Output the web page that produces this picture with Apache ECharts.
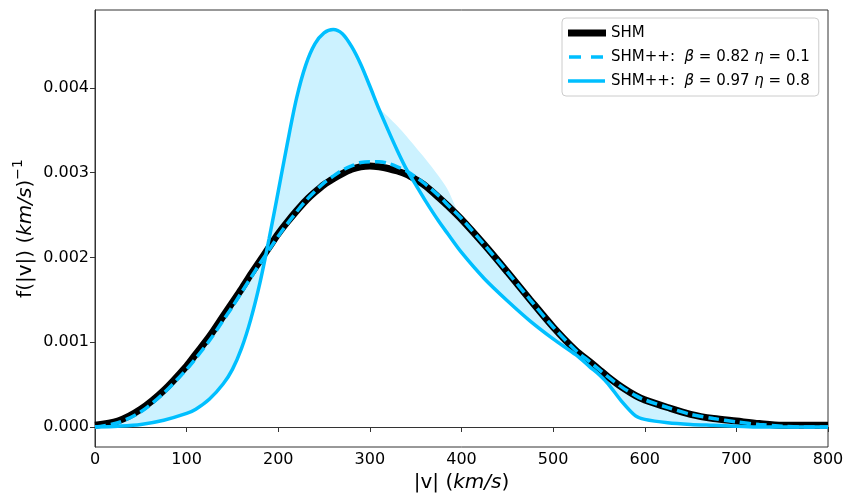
<!DOCTYPE html>
<html>

<head>
    <meta charset="UTF-8">
    <title>SHM speed distributions</title>
    <script src="https://cdn.jsdelivr.net/npm/echarts@6/dist/echarts.min.js"></script>
    <style>
        body {
            margin: 0;
            background-color: #fff;
        }

        #chart {
            width: 845px;
            height: 493px;
        }
    </style>
</head>

<body>
<div id="chart"></div>
<script>
    // speed grid |v| in km/s
    const speed = [0, 25, 50, 75, 100, 110, 125, 140, 150, 160, 170, 180, 190, 200, 210, 220, 230, 240, 250, 260,
        270, 280, 290, 300, 310, 320, 330, 340, 350, 360, 375, 385, 400, 425, 450, 475, 500, 525, 540, 550, 560,
        575, 590, 600, 625, 650, 675, 700, 725, 750, 775, 800]

    // SHM
    const shm = [0.00002, 0.00007, 0.00021, 0.00043, 0.00072, 0.00086, 0.00107, 0.00131, 0.00147, 0.00163,
        0.00180, 0.00196, 0.00212, 0.00228, 0.00242, 0.00255, 0.00267, 0.00277, 0.00286, 0.00293,
        0.00299, 0.00304, 0.00307, 0.00308, 0.00307, 0.00305, 0.00302, 0.00298, 0.00292, 0.00285,
        0.00271, 0.00261, 0.00245, 0.00215, 0.00183, 0.00150, 0.00118, 0.00090, 0.00077, 0.00068, 0.00059,
        0.00047, 0.00037, 0.00032, 0.00023, 0.00015, 0.00010, 0.00007, 0.00004, 0.00002, 0.00002, 0.00002]

    // SHM++ beta=0.82 eta=0.1
    const shmppLow = [0.0, 0.00005, 0.00018, 0.00040, 0.00068, 0.00081, 0.00102, 0.00126, 0.00142, 0.00159,
        0.00176, 0.00193, 0.00209, 0.00225, 0.00240, 0.00254, 0.00267, 0.00278, 0.00288, 0.00296,
        0.00303, 0.00308, 0.00312, 0.00313, 0.00313, 0.00311, 0.00307, 0.00302, 0.00295, 0.00287,
        0.00273, 0.00262, 0.00246, 0.00215, 0.00183, 0.00150, 0.00118, 0.00090, 0.00077, 0.00068, 0.00059,
        0.00047, 0.00037, 0.00032, 0.00023, 0.00015, 0.00010, 0.00006, 0.00003, 0.00001, 0.0, 0.0]

    // SHM++ beta=0.97 eta=0.8
    const shmppHigh = [0.0, 0.00001, 0.00003, 0.00008, 0.00016, 0.00021, 0.00033, 0.00051, 0.00068, 0.00093,
        0.00127, 0.00170, 0.00222, 0.00278, 0.00335, 0.00388, 0.00427, 0.00452, 0.00465, 0.00469,
        0.00464, 0.00449, 0.00428, 0.00402, 0.00375, 0.00350, 0.00326, 0.00304, 0.00286, 0.00268,
        0.00243, 0.00228, 0.00206, 0.00175, 0.00149, 0.00125, 0.00104, 0.00085, 0.00071, 0.00062, 0.00051,
        0.00030, 0.00013, 0.00009, 0.00005, 0.00003, 0.00002, 0.00001, 0.0, 0.0, 0.0, 0.0]

    // upper edge of the shaded band where it leaves the curves
    const edgeSpeed = [310, 320, 330, 340, 350, 360, 375, 385, 400]
    const edgeTop = [0.00377, 0.00366, 0.00355, 0.00343, 0.00330, 0.00317, 0.00296, 0.00280, 0.00246]

    const yTicks = [0, 0.001, 0.002, 0.003, 0.004]

    const blue = '#00bfff'
    const font = 'DejaVu Sans'
    const smooth = 0.3

    let bandLow = [], bandHigh = []
    speed.forEach(function (v, i) {
        let lo = Math.min(shmppLow[i], shmppHigh[i])
        let hi = Math.max(shmppLow[i], shmppHigh[i])
        let k = edgeSpeed.indexOf(v)
        if (k >= 0) hi = Math.max(hi, edgeTop[k])
        bandLow.push([v, lo])
        bandHigh.push([v, hi])
    })

    function pairs(ys) {
        return speed.map(function (v, i) {
            return [v, ys[i]]
        })
    }

    const nameLow = 'SHM++:  β = 0.82 η = 0.1'
    const nameHigh = 'SHM++:  β = 0.97 η = 0.8'

    // legend icons in a 38x18 box
    const iconThick = 'path://M0,0M38,18M0,5.5h38v7h-38z'
    const iconDash = 'path://M0,0M38,18M1,7.25h12v3.5h-12zM23,7.25h12v3.5h-12z'
    const iconSolid = 'path://M0,0M38,18M0,7.25h37v3.5h-37z'

    let chart = echarts.init(document.getElementById('chart'), null, {renderer: 'canvas'})
    chart.setOption({
        animation: false,
        textStyle: {fontFamily: font},
        grid: {
            left: 95, right: 17, top: 10, bottom: 46,
            containLabel: false, outerBoundsMode: 'none',
            show: true, borderColor: '#333', borderWidth: 1
        },
        legend: {
            orient: 'vertical',
            left: 562, top: 18,
            padding: [6, 9, 6, 6],
            itemGap: 6,
            itemWidth: 38,
            itemHeight: 18,
            borderColor: '#ccc',
            borderWidth: 1,
            borderRadius: 4,
            backgroundColor: '#fff',
            data: [
                {name: 'SHM', icon: iconThick, itemStyle: {color: '#000'}},
                {name: nameLow, icon: iconDash, itemStyle: {color: blue}},
                {name: nameHigh, icon: iconSolid, itemStyle: {color: blue}}
            ],
            formatter: function (name) {
                return name.replace(/([βη])/g, '{g|$1}')
            },
            textStyle: {
                fontFamily: font, fontSize: 15, color: '#000',
                rich: {g: {fontFamily: font, fontSize: 15, fontStyle: 'italic', color: '#000'}}
            }
        },
        xAxis: {
            type: 'value',
            min: 0, max: 800, interval: 100,
            name: '{a||v| (}{b|km/s}{a|)}',
            nameLocation: 'middle',
            nameGap: 24,
            nameTextStyle: {
                rich: {
                    a: {fontFamily: font, fontSize: 20, color: '#000'},
                    b: {fontFamily: font, fontSize: 20, fontStyle: 'italic', color: '#000'}
                }
            },
            axisLine: {lineStyle: {color: '#333'}},
            axisTick: {length: 5, lineStyle: {color: '#333'}},
            axisLabel: {fontSize: 16, color: '#000', margin: 5},
            splitLine: {show: false}
        },
        yAxis: {
            type: 'value',
            min: -0.000236, max: 0.00492,
            name: '{a|f(|v|) (}{b|km/s}{a|)}{c|−1}',
            nameLocation: 'middle',
            nameRotate: 90,
            nameGap: 54,
            nameMoveOverlap: false,
            nameTextStyle: {
                rich: {
                    a: {fontFamily: font, fontSize: 20, color: '#000', lineHeight: 30},
                    b: {fontFamily: font, fontSize: 20, fontStyle: 'italic', color: '#000', lineHeight: 30},
                    c: {fontFamily: font, fontSize: 14, color: '#000', verticalAlign: 'top', lineHeight: 30}
                }
            },
            axisLine: {show: true, lineStyle: {color: '#333'}},
            axisTick: {show: true, length: 5, customValues: yTicks, lineStyle: {color: '#333'}},
            axisLabel: {
                fontSize: 16, color: '#000', margin: 6, customValues: yTicks,
                formatter: function (v) {
                    return v.toFixed(3)
                }
            },
            splitLine: {show: false}
        },
        series: [
            {
                // shaded band: fill under the upper edge, then white under the lower edge
                name: 'bandHigh', type: 'line', data: bandHigh,
                symbol: 'none', smooth: smooth, silent: true,
                lineStyle: {width: 0, opacity: 0},
                areaStyle: {color: 'rgb(204,242,255)', opacity: 1, origin: 0}, z: 1
            },
            {
                name: 'bandLow', type: 'line', data: bandLow,
                symbol: 'none', smooth: smooth, silent: true,
                lineStyle: {width: 0, opacity: 0},
                areaStyle: {color: '#fff', opacity: 1, origin: 0}, z: 1
            },
            {
                name: 'SHM', type: 'line', data: pairs(shm),
                symbol: 'none', smooth: smooth,
                itemStyle: {color: '#000'},
                lineStyle: {color: '#000', width: 7}, z: 2
            },
            {
                name: nameLow, type: 'line', data: pairs(shmppLow),
                symbol: 'none', smooth: smooth,
                itemStyle: {color: blue},
                lineStyle: {color: blue, width: 3.5, type: [11, 5]}, z: 3
            },
            {
                name: nameHigh, type: 'line', data: pairs(shmppHigh),
                symbol: 'none', smooth: smooth,
                itemStyle: {color: blue},
                lineStyle: {color: blue, width: 3.5}, z: 4
            }
        ]
    })
</script>
</body>

</html>
